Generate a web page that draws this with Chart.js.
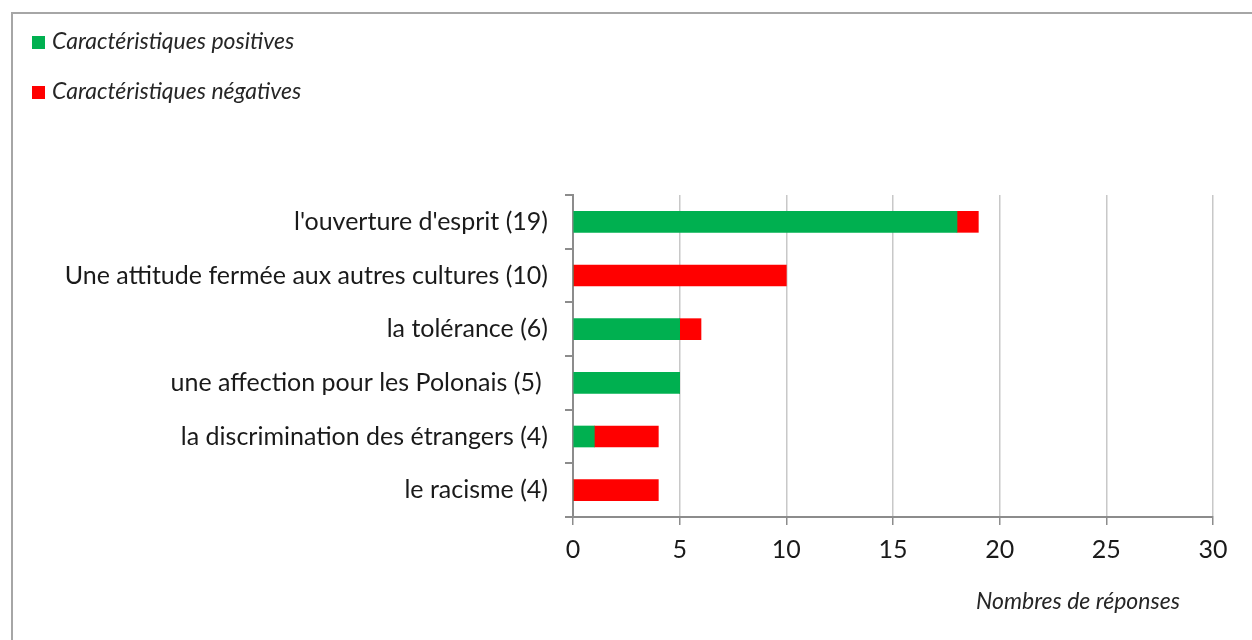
<!DOCTYPE html>
<html>
<head>
<meta charset="utf-8">
<script src="https://cdn.jsdelivr.net/npm/chart.js@4"></script>
<style>
  html, body { margin: 0; padding: 0; background: #fff; overflow: hidden; }
  #wrap { position: relative; width: 1252px; height: 640px; }
  #frame { position: absolute; left: 11px; top: 12px; width: 1300px; height: 700px; border: 2px solid #a6a6a6; box-sizing: border-box; }
  #legend { position: absolute; left: 32px; top: 26px; font-family: Lato, sans-serif; font-style: italic; font-size: 23px; color: #262626; }
  #legend div { height: 50px; line-height: 28px; }
  #legend span.box { display: inline-block; width: 13px; height: 13px; margin-right: 7px; vertical-align: 0px; }
  #xtitle { position: absolute; left: 976px; top: 586px; font-family: Lato, sans-serif; font-style: italic; font-size: 23px; color: #262626; }
  canvas { position: absolute; left: 0; top: 0; }
</style>
</head>
<body>
<div id="wrap">
  <div id="frame"></div>
  <canvas id="chart" width="1252" height="640"></canvas>
  <div id="legend"></div>
  <div id="xtitle">Nombres de réponses</div>
</div>
<script>
var categories = [
  "l'ouverture d'esprit (19)",
  "Une attitude fermée aux autres cultures (10)",
  "la tolérance (6)",
  "une affection pour les Polonais (5) ",
  "la discrimination des étrangers (4)",
  "le racisme (4)"
];
var positives = [18, 0, 5, 5, 1, 0];
var negatives = [1, 10, 1, 0, 3, 4];
var seriesNames = ["Caractéristiques positives", "Caractéristiques négatives"];
var seriesColors = ["#00b050", "#ff0000"];

window.onload = function () {
  var context = document.querySelector("#chart").getContext('2d');
  var chart = new Chart(context, {
    type: 'bar',
    data: {
      labels: categories,
      datasets: [{
        label: seriesNames[0],
        data: positives,
        backgroundColor: seriesColors[0],
        barThickness: 21
      }, {
        label: seriesNames[1],
        data: negatives,
        backgroundColor: seriesColors[1],
        barThickness: 21
      }]
    },
    options: {
      indexAxis: 'y',
      responsive: false,
      animation: false,
      layout: { padding: { left: 0, top: 195, right: 39, bottom: 0 } },
      plugins: { legend: { display: false }, tooltip: { enabled: false } },
      scales: {
        x: {
          stacked: true,
          min: 0,
          max: 30,
          ticks: { stepSize: 5, padding: 10, color: '#1a1a1a', font: { family: 'Lato', size: 25 } },
          grid: { color: '#c8c8c8', tickColor: '#8c8c8c', tickLength: 8, lineWidth: 1.5 },
          border: { color: '#8c8c8c', width: 2 },
          afterFit: function (scale) { scale.height = 123; }
        },
        y: {
          stacked: true,
          ticks: { padding: 17, color: '#1a1a1a', font: { family: 'Lato', size: 25 } },
          grid: { drawOnChartArea: false, tickColor: '#8c8c8c', tickLength: 8, lineWidth: 2 },
          border: { color: '#8c8c8c', width: 2 },
          afterFit: function (scale) { scale.width = 573; }
        }
      }
    }
  });

  var legend = document.getElementById('legend');
  chart.data.datasets.forEach(function (ds) {
    var row = document.createElement('div');
    var box = document.createElement('span');
    box.className = 'box';
    box.style.background = ds.backgroundColor;
    row.appendChild(box);
    row.appendChild(document.createTextNode(ds.label));
    legend.appendChild(row);
  });
};
</script>
</body>
</html>
